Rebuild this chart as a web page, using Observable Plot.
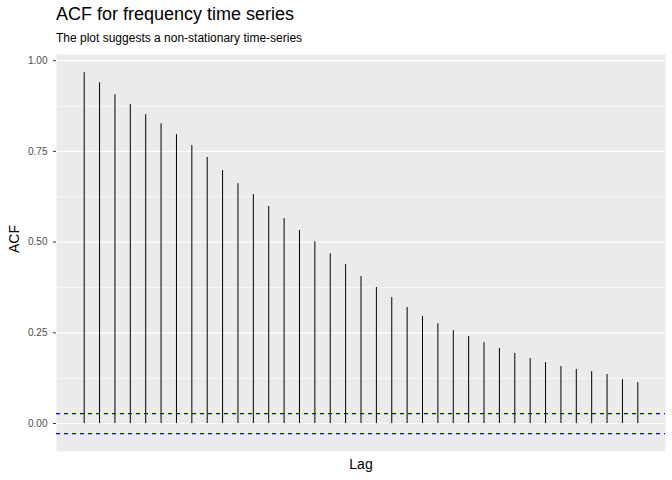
<!DOCTYPE html>
<html><head><meta charset="utf-8">
<script src="https://cdn.jsdelivr.net/npm/d3@7"></script>
<script src="https://cdn.jsdelivr.net/npm/@observablehq/plot@0.6"></script>
<style>
body{margin:0;background:#fff;font-family:"Liberation Sans",Arial,sans-serif;}
#h{height:48px;position:relative;}
#t{position:absolute;left:56px;top:4px;font-size:18px;color:#000;}
#s{position:absolute;left:56px;top:31px;font-size:12px;color:#000;}
</style></head><body>
<div id="h"><div id="t">ACF for frequency time series</div><div id="s">The plot suggests a non-stationary time-series</div></div>
<div id="c"></div>
<script>
const lags = d3.range(1, 38);
const acf = [0.967,0.939,0.906,0.879,0.851,0.826,0.796,0.766,0.733,0.697,0.661,0.631,0.598,0.565,0.532,0.501,0.468,0.438,0.405,0.375,0.347,0.320,0.295,0.275,0.256,0.240,0.223,0.207,0.193,0.179,0.168,0.157,0.149,0.143,0.135,0.121,0.113];
const ci = 0.0275;
const yTicks = [0, 0.25, 0.5, 0.75, 1];
const yMinor = [0.125, 0.375, 0.625, 0.875];
const data = lags.map((l, i) => ({lag: l, acf: acf[i]}));
const chart = Plot.plot({
  width: 672, height: 432,
  marginTop: 6, marginBottom: 29, marginLeft: 56, marginRight: 7,
  style: {fontFamily: "Liberation Sans, Arial, sans-serif", fontSize: "10px", color: "#4D4D4D"},
  x: {domain: [-0.8, 38.8], axis: null},
  y: {domain: [-0.077, 1.017], label: null},
  marks: [
    Plot.frame({fill: "#EBEBEB", stroke: null}),
    Plot.ruleY(yMinor, {stroke: "#fff", strokeWidth: 0.5}),
    Plot.ruleY(yTicks, {stroke: "#fff", strokeWidth: 1.1}),
    Plot.axisY({ticks: yTicks, tickFormat: d3.format(".2f"), tickSize: 3, label: null, stroke: "#333"}),
    Plot.ruleX(data, {x: "lag", y1: 0, y2: "acf", stroke: "#000", strokeWidth: 1}),
    Plot.ruleY([ci, -ci], {stroke: "#0000FF", strokeDasharray: "4,4", strokeWidth: 1.3}),
    Plot.text(["Lag"], {frameAnchor: "bottom", dy: 17, fontSize: 14, fill: "#000"}),
    Plot.text(["ACF"], {frameAnchor: "left", dx: -42, rotate: -90, fontSize: 14, fill: "#000"})
  ]
});
document.getElementById("c").appendChild(chart);
</script></body></html>
